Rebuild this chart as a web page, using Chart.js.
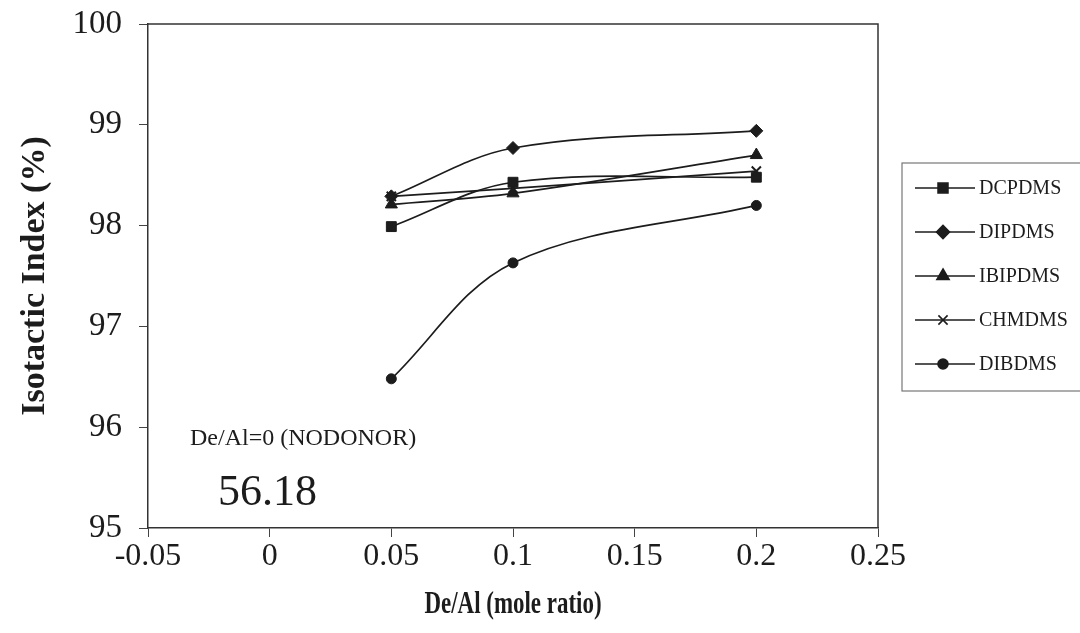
<!DOCTYPE html>
<html>
<head>
<meta charset="utf-8">
<title>Isotactic Index vs De/Al</title>
<script src="https://cdn.jsdelivr.net/npm/chart.js@4.4.1/dist/chart.umd.min.js"></script>
<style>
  html, body { margin: 0; padding: 0; background: #fff; }
  #wrap { width: 1080px; height: 633px; position: relative; }
</style>
</head>
<body>
<div id="wrap"><canvas id="grafico" width="1080" height="633"></canvas></div>
<script>
// Dados
const deAl = [0.05, 0.1, 0.2];
const dcpdms = [97.99, 98.43, 98.48];
const dipdms = [98.29, 98.77, 98.94];
const ibipdms = [98.21, 98.32, 98.70];
const chmdms = [98.29, 98.37, 98.54];
const dibdms = [96.48, 97.63, 98.20];

const xTickValues = [-0.05, 0, 0.05, 0.1, 0.15, 0.2, 0.25];
const xTickLabels = ['-0.05', '0', '0.05', '0.1', '0.15', '0.2', '0.25'];
const yTickValues = [95, 96, 97, 98, 99, 100];

const xTitulo = 'De/Al (mole ratio)';
const yTitulo = 'Isotactic Index (%)';
const noDonorLabel = 'De/Al=0 (NODONOR)';
const noDonorValue = '56.18';

const serif = "'Liberation Serif', 'Times New Roman', serif";
const ink = '#1c1c1c';

function serie(label, valores, estilo, raio) {
  return {
    label: label,
    data: deAl.map((x, i) => ({ x: x, y: valores[i] })),
    borderColor: ink,
    backgroundColor: ink,
    borderWidth: 1.7,
    pointStyle: estilo,
    pointRadius: raio,
    pointBorderWidth: estilo === 'crossRot' ? 2 : 1,
    tension: 0.35
  };
}

// Moldura superior e direita da área do gráfico
const moldura = {
  id: 'moldura',
  afterDraw(chart) {
    const { ctx, chartArea: a } = chart;
    ctx.save();
    ctx.strokeStyle = '#333';
    ctx.lineWidth = 1.5;
    ctx.beginPath();
    ctx.moveTo(a.left, a.top);
    ctx.lineTo(a.right, a.top);
    ctx.lineTo(a.right, a.bottom);
    ctx.stroke();
    ctx.restore();
  }
};

// Textos: título do eixo X (fonte estreita) e valor sem doador
const anotacoes = {
  id: 'anotacoes',
  afterDraw(chart) {
    const { ctx, chartArea: a } = chart;
    ctx.save();
    ctx.fillStyle = ink;
    ctx.textBaseline = 'alphabetic';
    ctx.textAlign = 'left';
    ctx.font = '24px ' + serif;
    ctx.fillText(noDonorLabel, a.left + 42, 445);
    ctx.font = '44px ' + serif;
    ctx.fillText(noDonorValue, a.left + 70, 505);

    ctx.translate((a.left + a.right) / 2, 605);
    ctx.scale(0.74, 1);
    ctx.textAlign = 'center';
    ctx.textBaseline = 'middle';
    ctx.font = 'bold 31px ' + serif;
    ctx.fillText(xTitulo, 0, 0);
    ctx.restore();
  }
};

// Legenda com linha + marcador
const legenda = {
  id: 'legenda',
  afterDraw(chart) {
    const { ctx } = chart;
    const box = { x: 902, y: 163, w: 180, h: 228 };
    ctx.save();
    ctx.strokeStyle = '#777';
    ctx.lineWidth = 1.2;
    ctx.strokeRect(box.x, box.y, box.w, box.h);
    ctx.font = '20px ' + serif;
    ctx.textBaseline = 'middle';
    ctx.fillStyle = ink;
    chart.data.datasets.forEach((ds, i) => {
      const y = 188 + i * 44;
      ctx.strokeStyle = ink;
      ctx.lineWidth = 1.6;
      ctx.beginPath();
      ctx.moveTo(915, y);
      ctx.lineTo(975, y);
      ctx.stroke();
      Chart.helpers.drawPoint(ctx, {
        pointStyle: ds.pointStyle,
        radius: ds.pointRadius,
        borderWidth: ds.pointBorderWidth,
        rotation: 0
      }, 943, y);
      ctx.fillText(ds.label, 979, y + 1);
    });
    ctx.restore();
  }
};

new Chart(document.getElementById('grafico'), {
  type: 'line',
  data: {
    datasets: [
      serie('DCPDMS', dcpdms, 'rect', 7),
      serie('DIPDMS', dipdms, 'rectRot', 6.5),
      serie('IBIPDMS', ibipdms, 'triangle', 7),
      serie('CHMDMS', chmdms, 'crossRot', 6.5),
      serie('DIBDMS', dibdms, 'circle', 5)
    ]
  },
  options: {
    responsive: false,
    animation: false,
    layout: { padding: { left: 0, right: 202, top: 24, bottom: 0 } },
    plugins: {
      legend: { display: false },
      tooltip: { enabled: false }
    },
    scales: {
      x: {
        type: 'linear',
        min: -0.05,
        max: 0.25,
        afterBuildTicks: s => { s.ticks = xTickValues.map(v => ({ value: v })); },
        afterFit: s => { s.height = 105; s.paddingLeft = 0; s.paddingRight = 0; },
        border: { display: true, color: '#333', width: 1.5 },
        grid: { drawOnChartArea: false, drawTicks: true, tickLength: 9, color: '#444', lineWidth: 1 },
        ticks: {
          color: ink,
          padding: 0,
          maxRotation: 0,
          autoSkip: false,
          font: { family: serif, size: 32 },
          callback: (v, i) => xTickLabels[i]
        },
        title: { display: false }
      },
      y: {
        min: 95,
        max: 100,
        afterBuildTicks: s => { s.ticks = yTickValues.map(v => ({ value: v })); },
        afterFit: s => { s.width = 148; s.paddingTop = 0; s.paddingBottom = 0; },
        border: { display: true, color: '#333', width: 1.5 },
        grid: { drawOnChartArea: false, drawTicks: true, tickLength: 9, color: '#444', lineWidth: 1 },
        ticks: {
          color: ink,
          padding: 17,
          font: { family: serif, size: 33 }
        },
        title: {
          display: true,
          text: yTitulo,
          color: ink,
          padding: { top: 18, bottom: 18 },
          font: { family: serif, size: 34, weight: 'bold', lineHeight: 1 }
        }
      }
    }
  },
  plugins: [moldura, anotacoes, legenda]
});
</script>
</body>
</html>
